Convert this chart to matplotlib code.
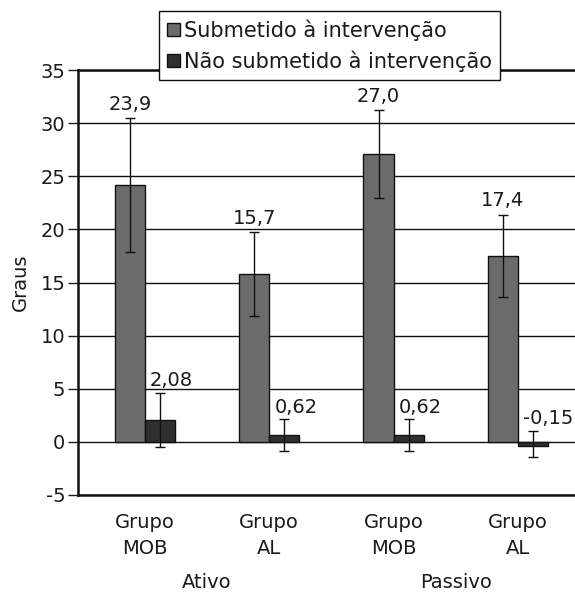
import matplotlib
matplotlib.use("Agg")
import matplotlib.pyplot as plt
import numpy as np

categories = ["Grupo\nMOB", "Grupo\nAL", "Grupo\nMOB", "Grupo\nAL"]
groups = ["Ativo", "Passivo"]
series_names = ["Submetido à intervenção", "Não submetido à intervenção"]

sub_values = [24.2, 15.8, 27.1, 17.5]
sub_labels = ["23,9", "15,7", "27,0", "17,4"]
sub_err_low = [6.3, 3.95, 4.15, 3.9]
sub_err_high = [6.3, 3.95, 4.15, 3.9]

nao_values = [2.08, 0.62, 0.62, -0.4]
nao_labels = ["2,08", "0,62", "0,62", "-0,15"]
nao_err_low = [2.55, 1.5, 1.5, 1.05]
nao_err_high = [2.55, 1.5, 1.5, 1.45]

yticks = [-5, 0, 5, 10, 15, 20, 25, 30, 35]

plt.rcParams['font.family'] = ['DejaVu Sans']
TXT = "#1a1a1a"
FS = 14

fig = plt.figure(figsize=(5.75, 5.93), dpi=100)
ax = fig.add_axes([78/575, 1 - 495/593, 502/575, (495 - 70)/593])

x = np.arange(len(categories))
w = 0.242
c_sub = "#6b6b6b"
c_nao = "#2f2f2f"

ax.set_axisbelow(True)
for t in yticks:
    ax.axhline(t, color="#111111", lw=1.0, zorder=1)

ax.bar(x - w/2, sub_values, width=w, color=c_sub, edgecolor="#111111", lw=1.0,
       zorder=3, label=series_names[0])
ax.bar(x + w/2, nao_values, width=w, color=c_nao, edgecolor="#111111", lw=1.0,
       zorder=3, label=series_names[1])
ax.errorbar(x - w/2, sub_values, yerr=[sub_err_low, sub_err_high], fmt="none",
            ecolor="#111111", elinewidth=1.0, capsize=3.8, capthick=1.0, zorder=4)
ax.errorbar(x + w/2, nao_values, yerr=[nao_err_low, nao_err_high], fmt="none",
            ecolor="#111111", elinewidth=1.0, capsize=3.8, capthick=1.0, zorder=4)

for i in range(len(categories)):
    ax.annotate(sub_labels[i], (x[i] - w/2, sub_values[i] + sub_err_high[i]),
                xytext=(0, 3), textcoords="offset points", ha="center", va="bottom",
                fontsize=FS, color=TXT, zorder=5)
    ax.annotate(nao_labels[i], (x[i] + 0.04, nao_values[i] + nao_err_high[i]),
                xytext=(0, 2), textcoords="offset points", ha="left", va="bottom",
                fontsize=FS, color=TXT, zorder=5)

ax.set_xlim(-0.539, 3.5)
ax.set_ylim(-5, 35)
ax.set_yticks(yticks)
ax.set_yticklabels([str(t) for t in yticks], fontsize=FS, color=TXT)
ax.tick_params(axis="y", length=7, width=1.0, pad=2, colors=TXT, labelcolor=TXT)
ax.set_xticks(x)
ax.set_xticklabels(categories, fontsize=FS, color=TXT, linespacing=1.45)
ax.tick_params(axis="x", length=0, pad=13)

for s in ["left", "bottom", "top"]:
    ax.spines[s].set_linewidth(1.8)
    ax.spines[s].set_color("#111111")
ax.spines["right"].set_visible(False)

ax.set_ylabel("Graus", fontsize=FS, color=TXT, labelpad=8)

for gi, g in enumerate(groups):
    ax.text(0.5 + 2*gi, -0.205, g, transform=ax.get_xaxis_transform(),
            ha="center", va="center", fontsize=FS, color=TXT)

leg = fig.legend(loc="upper center", bbox_to_anchor=(329.5/575, 1 - 11/593),
                 fontsize=15, frameon=True, fancybox=False, edgecolor="#111111",
                 framealpha=1, handlelength=0.6, handleheight=0.6,
                 handletextpad=0.2, borderpad=0.4, labelspacing=0.45,
                 borderaxespad=0)
leg.get_frame().set_linewidth(1.0)
for t in leg.get_texts():
    t.set_color(TXT)

fig.savefig("out.png", dpi=100)
